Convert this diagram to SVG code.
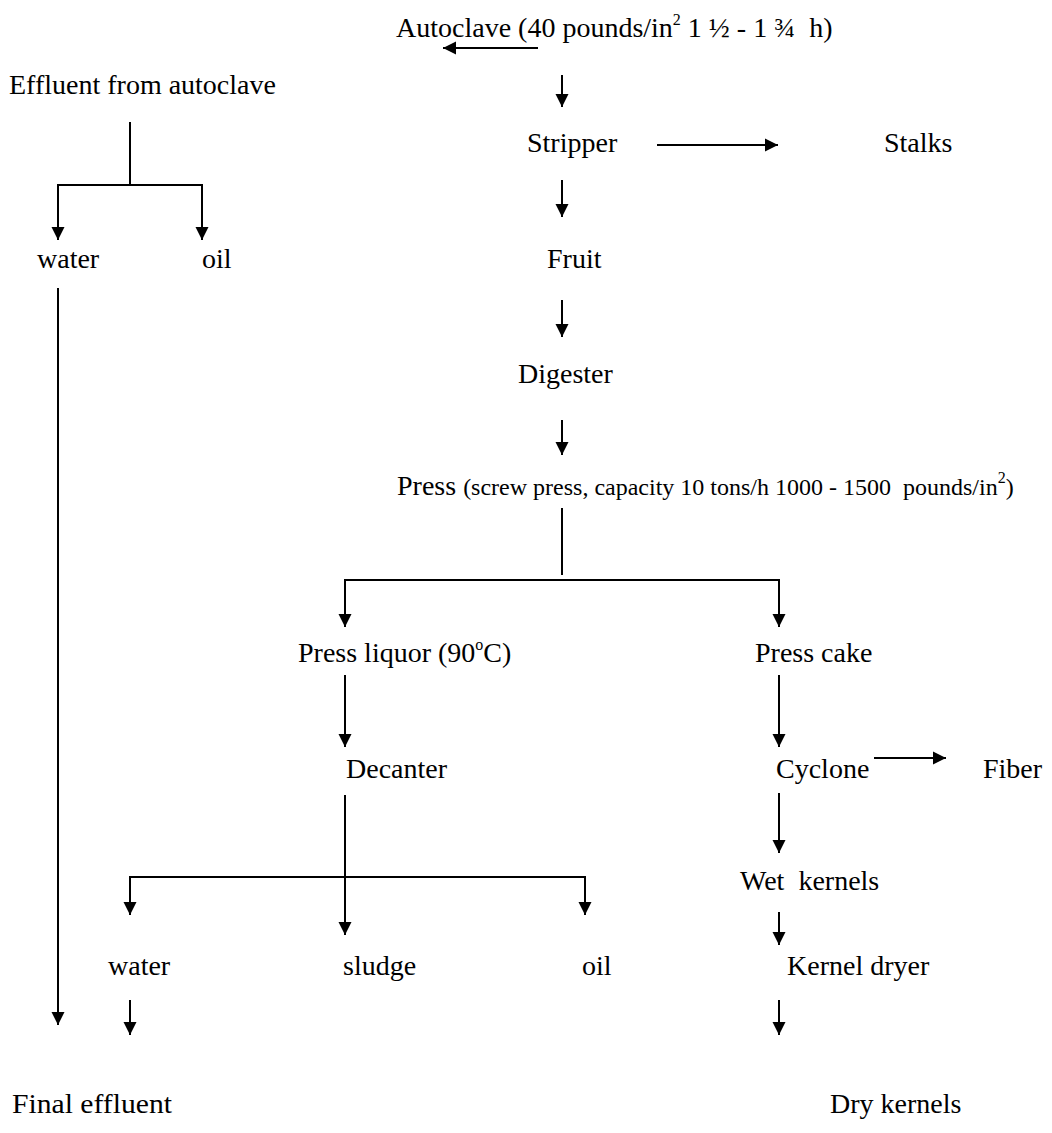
<svg xmlns="http://www.w3.org/2000/svg" width="1052" height="1133" viewBox="0 0 1052 1133" font-family="'Liberation Serif', 'Times New Roman', 'DejaVu Serif', serif">
<style>
text{font-family:'Liberation Serif','Times New Roman',Tinos,'DejaVu Serif',serif;font-size:28px;fill:#000;white-space:pre}
.small{font-size:24px}
.sup{font-size:16px}
.ln{stroke:#000;stroke-width:2;fill:none}
.ar{stroke:#000;stroke-width:2;fill:none;marker-end:url(#ah)}
</style>
<defs>
<marker id="ah" markerUnits="userSpaceOnUse" markerWidth="14" markerHeight="14" refX="13" refY="7" orient="auto"><path d="M0,0.5 L13,7 L0,13.5 Z" fill="#000"/></marker>
</defs>
<rect width="1052" height="1133" fill="#fff"/>
<g id="connectors">
<line class="ar" x1="538" y1="48" x2="443" y2="48"/>
<line class="ar" x1="562" y1="75" x2="562" y2="107"/>
<line class="ln" x1="130" y1="122" x2="130" y2="185"/>
<polyline class="ln" points="58,185 202,185"/>
<line class="ar" x1="58" y1="184" x2="58" y2="240"/>
<line class="ar" x1="202" y1="184" x2="202" y2="240"/>
<line class="ar" x1="657" y1="145" x2="778" y2="145"/>
<line class="ar" x1="562" y1="180" x2="562" y2="217"/>
<line class="ar" x1="562" y1="300" x2="562" y2="337"/>
<line class="ar" x1="562" y1="420" x2="562" y2="455"/>
<line class="ln" x1="562" y1="508" x2="562" y2="575"/>
<line class="ln" x1="345" y1="580" x2="780" y2="580"/>
<line class="ar" x1="345" y1="579" x2="345" y2="627"/>
<line class="ar" x1="779" y1="579" x2="779" y2="627"/>
<line class="ar" x1="345" y1="675" x2="345" y2="747"/>
<line class="ar" x1="779" y1="675" x2="779" y2="747"/>
<line class="ar" x1="874" y1="758" x2="946" y2="758"/>
<line class="ar" x1="345" y1="795" x2="345" y2="935"/>
<line class="ln" x1="130" y1="877" x2="585" y2="877"/>
<line class="ar" x1="130" y1="876" x2="130" y2="915"/>
<line class="ar" x1="585" y1="876" x2="585" y2="915"/>
<line class="ar" x1="779" y1="793" x2="779" y2="853"/>
<line class="ar" x1="779" y1="912" x2="779" y2="945"/>
<line class="ar" x1="58" y1="288" x2="58" y2="1025"/>
<line class="ar" x1="130" y1="1000" x2="130" y2="1035"/>
<line class="ar" x1="779" y1="1000" x2="779" y2="1035"/>
</g>
<g id="autoclave"><text x="396" y="37">Autoclave (40 pounds/in<tspan class="sup" dy="-12">2</tspan><tspan dy="12"> 1 ½ - 1 ¾  h)</tspan></text></g>
<g id="effluent-autoclave"><text x="9" y="94">Effluent from autoclave</text></g>
<g id="water-1"><text x="37" y="268">water</text></g>
<g id="oil-1"><text x="202" y="268">oil</text></g>
<g id="stripper"><text x="527" y="152">Stripper</text></g>
<g id="stalks"><text x="884" y="152">Stalks</text></g>
<g id="fruit"><text x="547" y="268">Fruit</text></g>
<g id="digester"><text x="518" y="383">Digester</text></g>
<g id="press"><text x="397" y="495">Press <tspan class="small">(screw press, capacity 10 tons/h 1000 - 1500  pounds/in</tspan><tspan class="sup" dy="-12">2</tspan><tspan class="small" dy="12">)</tspan></text></g>
<g id="press-liquor"><text x="298" y="662">Press liquor (90<tspan class="sup" dy="-12">o</tspan><tspan dy="12">C)</tspan></text></g>
<g id="press-cake"><text x="755" y="662">Press cake</text></g>
<g id="decanter"><text x="346" y="778">Decanter</text></g>
<g id="cyclone"><text x="776" y="778">Cyclone</text></g>
<g id="fiber"><text x="983" y="778">Fiber</text></g>
<g id="wet-kernels"><text x="740" y="890">Wet  kernels</text></g>
<g id="water-2"><text x="108" y="975">water</text></g>
<g id="sludge"><text x="343" y="975">sludge</text></g>
<g id="oil-2"><text x="582" y="975">oil</text></g>
<g id="kernel-dryer"><text x="787" y="975">Kernel dryer</text></g>
<g id="final-effluent"><text x="12" y="1113" textLength="160" lengthAdjust="spacingAndGlyphs">Final effluent</text></g>
<g id="dry-kernels"><text x="830" y="1113">Dry kernels</text></g>
</svg>
